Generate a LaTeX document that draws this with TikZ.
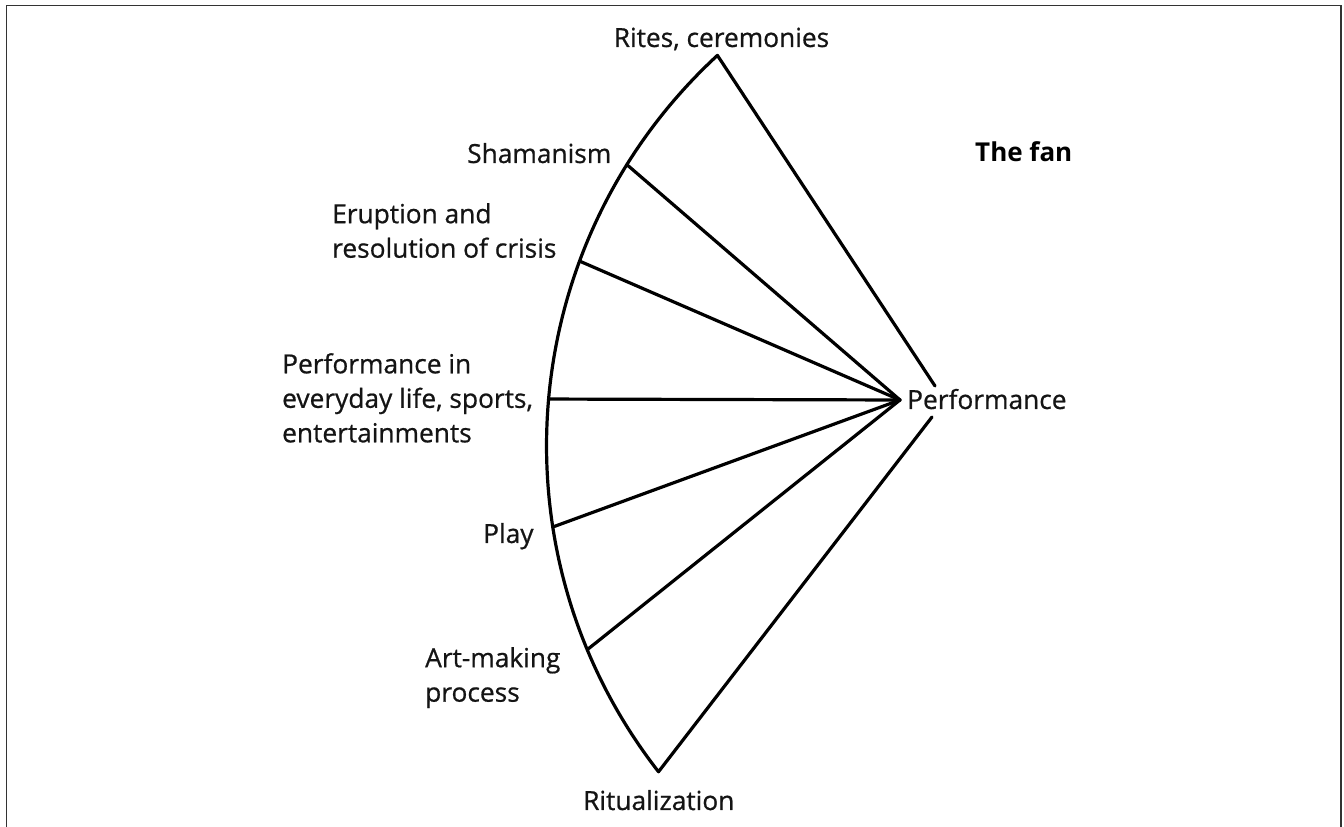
\documentclass[tikz,border=0pt]{standalone}
\usepackage{fontspec}
\setmainfont{Open Sans}
\newfontfamily\lblfont{Open Sans}[FakeBold=0.7]
\begin{document}
\begin{tikzpicture}[x=1pt,y=1pt,
  fanline/.style={line width=3.2pt, line cap=round, line join=round, black},
  lbl/.style={inner sep=0pt, font=\lblfont\fontsize{26.3}{34.5}\selectfont, text=black!92},
  lbll/.style={lbl, align=left, anchor=north west},
  frame/.style={line width=1.8pt, black!80}]
\useasboundingbox (0,0) rectangle (1344,827);
\draw[frame] (6.5,-5) -- (6.5,821.5) -- (1341,821.5) -- (1341,-5);
% circle on which the left edge lies
\coordinate (c0) at (1077.5,381.4);
\path (c0) ++(132.7:531) coordinate (rites)
      (c0) ++(148.06:531) coordinate (sham)
      (c0) ++(159.67:531) coordinate (erup)
      (c0) ++(174.97:531) coordinate (every)
      (c0) ++(188.82:531) coordinate (play)
      (c0) ++(202.6:531) coordinate (art)
      (c0) ++(217.9:531) coordinate (ritu);
\coordinate (perf) at (900,427);
\coordinate (perftop) at (935,441);
\coordinate (perfbot) at (932,410);
% outline
\draw[fanline] (perftop) -- (rites) arc[start angle=132.7, end angle=217.9, radius=531] -- (perfbot);
% ribs
\foreach \p in {sham,erup,every,play,art} \draw[fanline] (\p) -- (perf);
% labels
\node[lbl, anchor=base] (tRites) at (721.5,780) {Rites, ceremonies};
\node[lbl, anchor=base west] (tSham) at (467,664) {Shamanism};
\node[lbll] (tErup) at (332,624) {Eruption and\\resolution of crisis};
\node[lbll] (tEvery) at (282,474) {Performance in\\everyday life, sports,\\entertainments};
\node[lbl, anchor=base west] (tPlay) at (483,284) {Play};
\node[lbll] (tArt) at (425,180) {Art-making\\process};
\node[lbl, anchor=base west] (tRitu) at (583,17) {Ritualization};
\node[lbl, anchor=base west] (tPerf) at (907,418) {Performance};
\node[inner sep=0pt, anchor=base west, font=\fontsize{26}{30}\selectfont\bfseries, text=black] (tFan) at (975,665) {The fan};
\end{tikzpicture}
\end{document}
